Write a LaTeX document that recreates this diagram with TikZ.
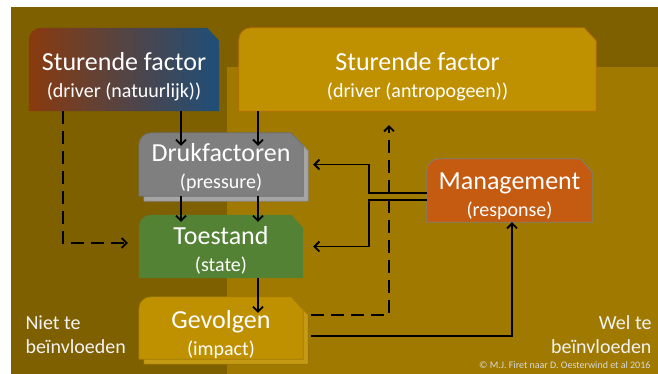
\documentclass[tikz,border=0pt]{standalone}
\usepackage{fontspec}
\setmainfont{Carlito}
\usetikzlibrary{arrows.meta,calc,backgrounds}

\definecolor{paneldonker}{HTML}{7F6000}
\definecolor{panellicht}{HTML}{A07A00}
\definecolor{natrood}{HTML}{8A3A0E}
\definecolor{natblauw}{HTML}{1F4E79}
\definecolor{goud}{HTML}{BF9000}
\definecolor{goudrand}{HTML}{B86E0C}
\definecolor{grijs}{HTML}{7F7F7F}
\definecolor{lichtgrijs}{HTML}{A5A5A5}
\definecolor{groen}{HTML}{548235}
\definecolor{oranje}{HTML}{C55A11}

\pgfdeclarelayer{paneel}
\pgfsetlayers{paneel,background,main}

% box outline: round corner top left, snipped corner top right
\newcommand{\vorm}[2]{%
  \path[#2] (#1.south west) -- ([yshift=-12pt]#1.north west)
    arc[start angle=180, end angle=90, radius=12pt]
    -- ([xshift=-12pt]#1.north east) -- ([yshift=-13pt]#1.north east)
    -- (#1.south east) -- cycle;}
% two lines of a box, lowered by #1
\newcommand{\regels}[3]{%
  \raisebox{-#1}[\height][\depth]{#2}\\%
  \raisebox{-#1}[\height][\depth]{\fontsize{20}{27}\selectfont #3}}

\tikzset{
  kader/.style={rectangle, inner sep=0pt, align=center, text=white,
    font=\fontsize{26}{27}\selectfont},
  pijl/.style={-{Straight Barb[length=5pt,width=10pt]}, line width=1.8pt, black},
  streep/.style={dash pattern=on 13pt off 7pt},
  hoek/.style={text=white!95!black, font=\fontsize{20}{24}\selectfont}
}

\begin{document}
\begin{tikzpicture}[x=1pt, y=-1pt]
    \useasboundingbox (0,0) rectangle (658,374);

    % the boxes
    \node[kader, minimum width=190pt, minimum height=83pt] (nat) at (124,69.5)
        {\regels{7pt}{Sturende factor}{(driver (natuurlijk))}};
    \node[kader, minimum width=357pt, minimum height=83pt] (antro) at (417.5,69.5)
        {\regels{7pt}{Sturende factor}{(driver (antropogeen))}};
    \node[kader, minimum width=164pt, minimum height=63pt] (druk) at (221,164.5)
        {\regels{3pt}{Drukfactoren}{(pressure)}};
    \node[kader, minimum width=164pt, minimum height=63pt] (toe) at (221,246.5)
        {\regels{4pt}{Toestand}{(state)}};
    \node[kader, minimum width=164pt, minimum height=62pt] (gev) at (221,328)
        {\regels{7pt}{Gevolgen}{(impact)}};
    \node[kader, minimum width=165pt, minimum height=63pt] (man) at (509.5,190.5)
        {\regels{6pt}{Management}{(response)}};

    % side texts
    \node[hoek, anchor=west, align=left] (niet) at (22,335) {Niet te\\beïnvloeden};
    \node[hoek, anchor=east, align=right] (wel) at (655,335) {Wel te\\beïnvloeden};
    \node[anchor=base east, text=white!85!black, font=\fontsize{10}{12}\selectfont]
        (bron) at (654,368) {© M.J. Firet naar D. Oesterwind et al 2016};

    \begin{pgfonlayer}{paneel}
        \fill[white] (0,0) rectangle (658,374);
        \fill[paneldonker] (11,7) rectangle (658,374);
        \fill[panellicht] (227,67) rectangle (658,374);
    \end{pgfonlayer}

    \begin{pgfonlayer}{background}
        \vorm{nat}{left color=natrood, right color=natblauw}
        \vorm{antro}{fill=goud, draw=goudrand, line width=0.8pt}
        \begin{scope}[transform canvas={shift={(5pt,-5pt)}}]
            \vorm{druk}{fill=lichtgrijs, draw=lichtgrijs!80!black, line width=0.6pt}
            \vorm{gev}{fill=goud!92!white, draw=goud!80!black, line width=0.6pt}
        \end{scope}
        \vorm{druk}{fill=grijs, draw=grijs!85!black, line width=0.6pt}
        \vorm{toe}{fill=groen}
        \vorm{gev}{fill=goud, draw=goud!85!black, line width=0.6pt}
        \vorm{man}{fill=oranje, draw=grijs, line width=0.8pt}
    \end{pgfonlayer}

    % columns of the connectors
    \coordinate (k1) at (181,0);
    \coordinate (k2) at (258,0);
    \coordinate (k3) at (63,0);
    \coordinate (k4) at (389,0);
    \coordinate (k5) at (369,0);
    \coordinate (k6) at (512,0);

    % connectors
    \draw[pijl] (nat.south -| k1) -- ($(druk.north -| k1)+(0,13)$);
    \draw[pijl] (antro.south -| k2) -- ($(druk.north -| k2)+(0,13)$);
    \draw[pijl] (druk.south -| k1) -- ($(toe.north -| k1)+(0,7)$);
    \draw[pijl] (druk.south -| k2) -- ($(toe.north -| k2)+(0,7)$);
    \draw[pijl] (toe.south -| k2) -- ($(gev.north -| k2)+(0,16)$);
    \draw[pijl, streep] (nat.south -| k3) |- ($(toe.west)+(-11,-3.5)$);
    \draw[pijl, streep] ($(gev.east)+(8,-13)$) -| ($(antro.south -| k4)+(0,14)$);
    \draw[pijl] ($(gev.east)+(8,8)$) -| (man.south -| k6);
    \draw[pijl] ($(man.west)+(0,2.5)$) -| (k5 |- druk.east) -- ($(druk.east)+(10,0)$);
    \draw[pijl] ($(man.west)+(0,9.5)$) -| (k5 |- toe.east) -- ($(toe.east)+(10,0)$);
\end{tikzpicture}
\end{document}
